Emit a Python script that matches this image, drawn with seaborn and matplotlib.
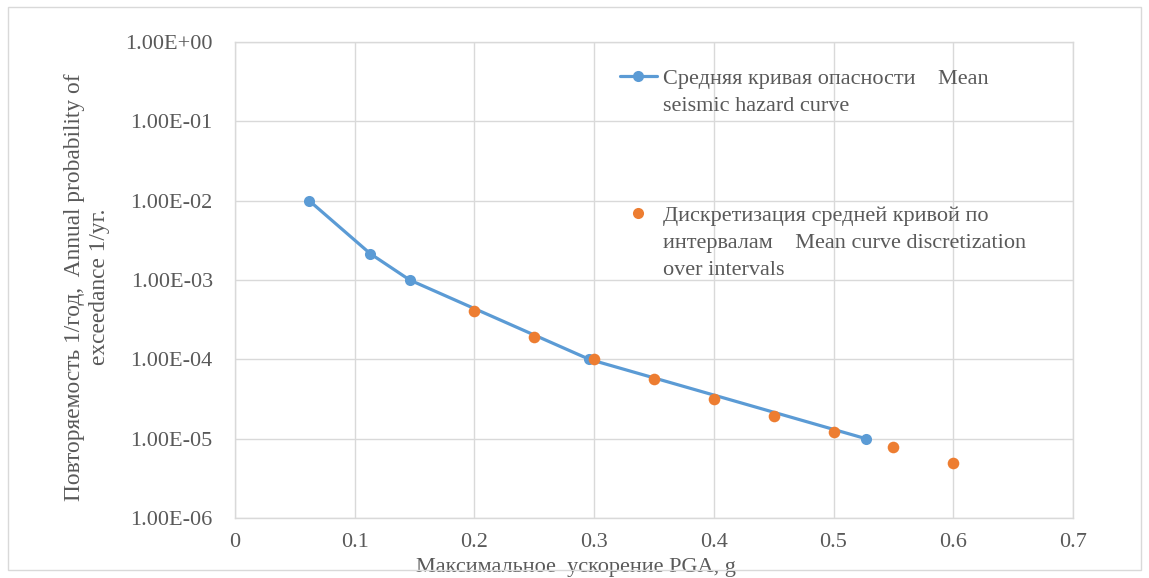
import matplotlib
matplotlib.use('Agg')
from matplotlib import pyplot as plt
from matplotlib.lines import Line2D
from matplotlib.patches import Rectangle
from matplotlib.ticker import NullLocator
import pandas as pd
import seaborn as sns

BLUE = '#5b9bd5'
ORANGE = '#ed7d31'
TEXT_GREY = '#595959'
GRID_GREY = '#d9d9d9'

# mean seismic hazard curve (blue line)
mean_pga = [0.062, 0.113, 0.146, 0.296, 0.527]
mean_prob = [1.0e-2, 2.15e-3, 1.0e-3, 1.0e-4, 1.0e-5]

# discretization of the mean curve (orange points)
disc_pga = [0.20, 0.25, 0.30, 0.35, 0.40, 0.45, 0.50, 0.55, 0.60]
disc_prob = [4.1e-4, 1.9e-4, 1.0e-4, 5.6e-5, 3.2e-5, 1.95e-5, 1.2e-5, 7.8e-6, 5.0e-6]

x_ticks = [0, 0.1, 0.2, 0.3, 0.4, 0.5, 0.6, 0.7]
x_tick_labels = ['0', '0.1', '0.2', '0.3', '0.4', '0.5', '0.6', '0.7']
y_ticks = [1e0, 1e-1, 1e-2, 1e-3, 1e-4, 1e-5, 1e-6]
y_tick_labels = ['1.00E+00', '1.00E-01', '1.00E-02', '1.00E-03',
                 '1.00E-04', '1.00E-05', '1.00E-06']

label_mean = ['Средняя кривая опасности    Mean', 'seismic hazard curve']
label_disc = ['Дискретизация средней кривой по',
              'интервалам    Mean curve discretization', 'over intervals']

sns.set_theme(style='white')
plt.rcParams['font.family'] = ['Liberation Serif', 'DejaVu Serif']
plt.rcParams['text.color'] = TEXT_GREY

mean_df = pd.DataFrame({'pga': mean_pga, 'prob': mean_prob})
disc_df = pd.DataFrame({'pga': disc_pga, 'prob': disc_prob})

fig = plt.figure(figsize=(11.49, 5.78), dpi=100)
ax = fig.add_axes([0.2045, 0.1038, 0.7293, 0.8235])

sns.lineplot(data=mean_df, x='pga', y='prob', ax=ax, color=BLUE, linewidth=2.3,
             marker='o', markersize=8, markeredgewidth=0, sort=False, zorder=3)
sns.scatterplot(data=disc_df, x='pga', y='prob', ax=ax, color=ORANGE, s=70,
                linewidth=0, zorder=4)

ax.set_yscale('log')
ax.set_xlim(0, 0.7)
ax.set_ylim(1e-6, 1e0)
ax.set_xticks(x_ticks, x_tick_labels)
ax.set_yticks(y_ticks, y_tick_labels)
ax.yaxis.set_minor_locator(NullLocator())
ax.tick_params(axis='both', length=0, labelsize=16, labelcolor=TEXT_GREY)
ax.tick_params(axis='y', pad=16)
ax.tick_params(axis='x', pad=11)
ax.grid(True, color=GRID_GREY, linewidth=1)
for sp in ax.spines.values():
    sp.set_color(GRID_GREY)
    sp.set_linewidth(1)

ax.set_xlabel('Максимальное  ускорение PGA, g', fontsize=16, color=TEXT_GREY)
ax.xaxis.set_label_coords(0.407, -0.085)
ax.set_ylabel('Повторяемость 1/год,  Annual probability of\nexceedance 1/уг.',
              fontsize=16.8, color=TEXT_GREY, va='center', linespacing=1.25)
ax.yaxis.set_label_coords(-0.177, 0.485)

# legend: handle sits next to the first line of each label
blank = Line2D([], [], linestyle='none')
h_mean = Line2D([], [], color=BLUE, linewidth=2.3, marker='o', markersize=8,
                markeredgewidth=0)
h_disc = Line2D([], [], color=ORANGE, linestyle='none', marker='o', markersize=8,
                markeredgewidth=0)
leg_kw = dict(frameon=False, fontsize=16, borderpad=0, borderaxespad=0,
              handlelength=1.7, handletextpad=0.25, labelspacing=0.29,
              loc='upper left', labelcolor=TEXT_GREY)
leg1 = ax.legend([h_mean, blank], label_mean, bbox_to_anchor=(0.459, 0.9445), **leg_kw)
ax.add_artist(leg1)
ax.legend([h_disc, blank, blank], label_disc, bbox_to_anchor=(0.459, 0.6575), **leg_kw)

fig.patches.append(Rectangle((8 / 1149, 8 / 578), 1133 / 1149, 563 / 578,
                             transform=fig.transFigure, fill=False,
                             edgecolor=GRID_GREY, linewidth=1))

fig.savefig('out.png', dpi=100)
